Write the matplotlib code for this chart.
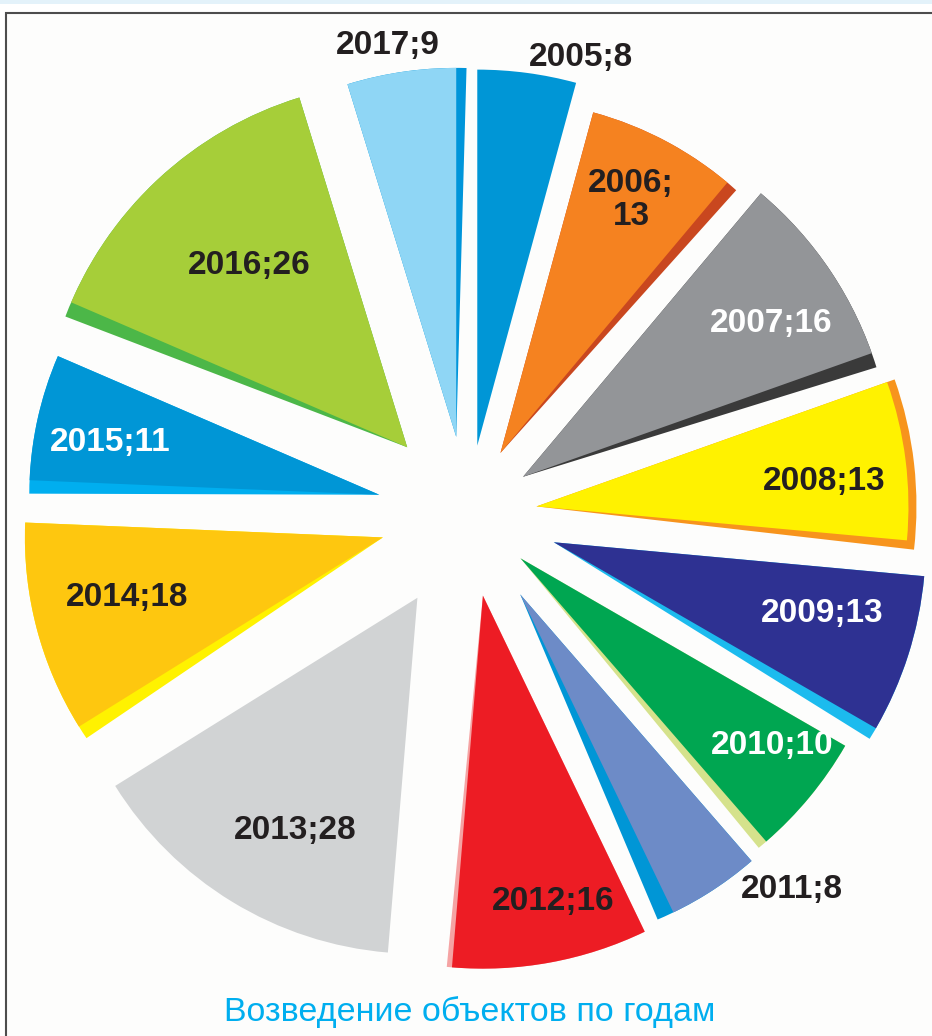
import numpy as np
import matplotlib.pyplot as plt
from matplotlib.patches import Wedge, Rectangle

# data
years = [2005, 2006, 2007, 2008, 2009, 2010, 2011, 2012, 2013, 2014, 2015, 2016, 2017]
counts = [8, 13, 16, 13, 13, 10, 8, 16, 28, 18, 11, 26, 9]
title = "Возведение объектов по годам"

# style
face_colors = ["#0096d6", "#f58220", "#939598", "#fff200", "#2e3192", "#00a651",
               "#6d8bc7", "#ed1c24", "#d1d3d4", "#fec70f", "#0096d6", "#a6ce39",
               "#8fd6f5"]
side_colors = [None, "#c9471f", "#3a3a3a", "#f7941d", "#1cbbee", "#d5e28c",
               "#0096d6", "#f5a3a3", None, "#fff200", "#00aeef", "#4cb748",
               "#0095da"]
side_on_low = [True, True, True, True, True, True, True, True, True, False, False, False, True]
side_deg = [0, 1.9, 2.3, 1.3, 1.9, 1.5, 2.8, 0.8, 0, 2.2, 2.2, 2.4, 1.6]
side_extra_r = [0, 0, 0, 8, 0, 0, 0, 0, 0, 0, 0, 0, 0]
explode = [70, 70, 67, 69, 90, 68, 95, 82, 97, 88, 91, 91, 79]
radii = [376, 353, 370, 372, 372, 375, 353, 373, 356, 358, 350, 366, 369]
label_dist = [1.10, 0.78, 0.80, 0.79, 0.76, 0.86, 1.10, 0.86, 0.72, 0.72, 0.75, 0.66, 1.09]
label_shift = [-7.4, 0.3, -3.1, -2.1, 2.8, 2.9, 9.3, 2.4, 3.6, -1.6, 1.9, -0.8, 1.4]
label_colors = ["#231f20", "#231f20", "white", "#231f20", "white", "white", "#231f20",
                "#231f20", "#231f20", "#231f20", "white", "#231f20", "#231f20"]

W, H = 932, 1036
fig = plt.figure(figsize=(W / 100, H / 100), dpi=100)
ax = fig.add_axes([0, 0, 1, 1])

wedges, _ = ax.pie(counts, explode=explode, colors=face_colors, startangle=90,
                   counterclock=False, radius=365, center=(468, H - 515),
                   wedgeprops=dict(linewidth=0, zorder=3))

for i, w in enumerate(wedges):
    w.set_radius(radii[i])
    cx, cy = w.center
    t1, t2 = w.theta1, w.theta2
    if side_colors[i] is not None:
        if side_on_low[i]:
            s1, s2 = t1 - side_deg[i], t2
        else:
            s1, s2 = t1, t2 + side_deg[i]
        ax.add_patch(Wedge((cx, cy), radii[i] + side_extra_r[i], s1, s2,
                           facecolor=side_colors[i], linewidth=0, zorder=2))
    mid = np.deg2rad((t1 + t2) / 2 + label_shift[i])
    d = label_dist[i] * 365
    text = f"{years[i]};{counts[i]}"
    if years[i] == 2006:
        text = f"{years[i]};\n{counts[i]}"
    ax.text(cx + d * np.cos(mid), cy + d * np.sin(mid), text,
            ha="center", va="center", fontsize=24, fontweight="bold",
            family=["Liberation Sans", "DejaVu Sans"], color=label_colors[i],
            linespacing=1.05, zorder=5)

# frame
ax.add_patch(Rectangle((6, -20), 1000, H - 13 + 20, facecolor="#fdfdfc",
                       edgecolor="#4d4d4d", linewidth=1.5, zorder=0))
ax.add_patch(Rectangle((0, H - 4), W, 4, facecolor="#e3f2fa", linewidth=0, zorder=0))

ax.text(470, H - 1021, title, ha="center", va="baseline", fontsize=24.5,
        family=["Liberation Sans", "DejaVu Sans"], color="#00aeef", zorder=5)

ax.set_xlim(0, W)
ax.set_ylim(0, H)
ax.set_aspect("equal")
ax.axis("off")

fig.savefig("out.png", dpi=100, facecolor="white")
